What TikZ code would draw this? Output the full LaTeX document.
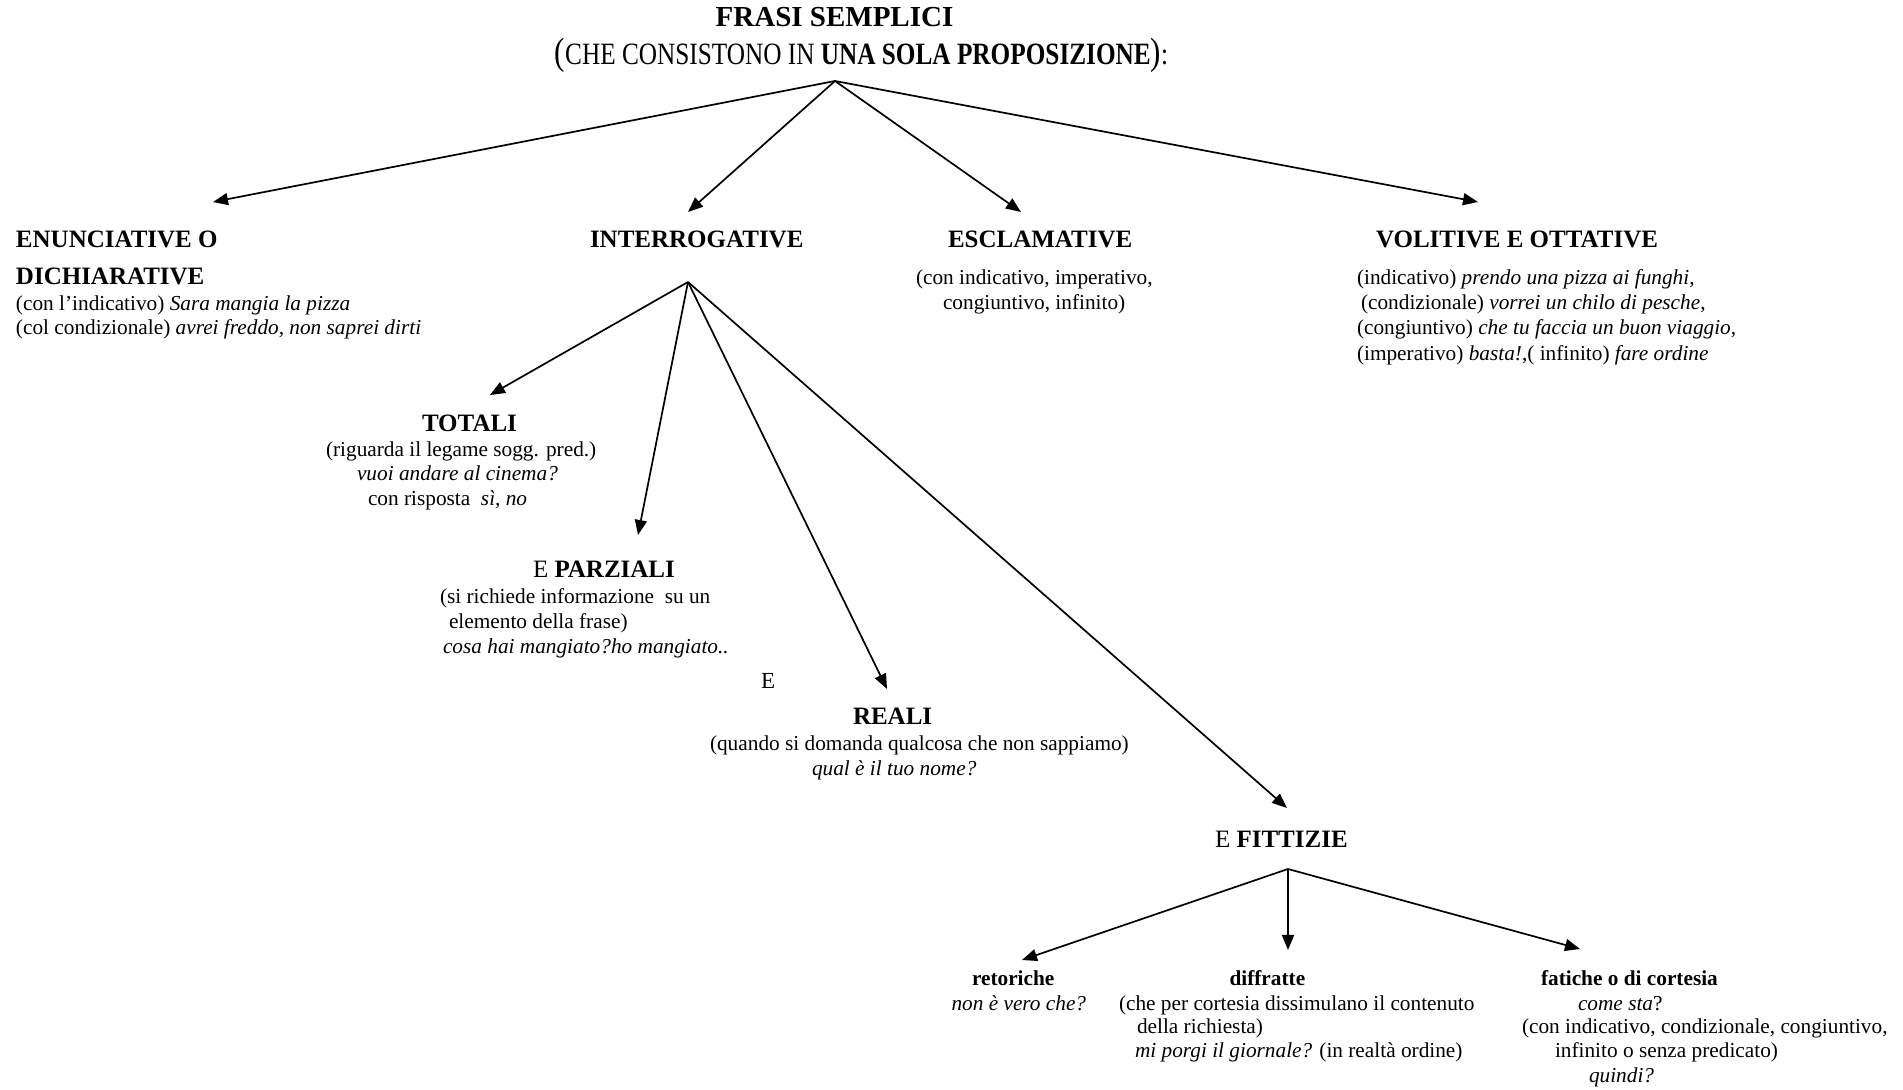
\documentclass[tikz,border=0pt]{standalone}
\usepackage{fontspec}
\usepackage{graphicx}
\setmainfont{Liberation Serif}
\usetikzlibrary{arrows.meta}

\tikzset{
  x=0.5pt, y=-0.5pt,
  txt/.style={inner sep=0pt, outer sep=0pt, anchor=base west,
              font=\fontsize{10.65}{12.5}\selectfont},
  headtxt/.style={txt, font=\fontsize{12.5}{14}\selectfont},
  boldhead/.style={txt, font=\fontsize{12.5}{14}\selectfont\bfseries},
  subhead/.style={txt, font=\fontsize{10.65}{12.5}\selectfont\bfseries},
  arr/.style={-{Triangle[length=7.5pt,width=6pt]}, line width=0.85pt},
}

\begin{document}
\begin{tikzpicture}
\useasboundingbox (0,0) rectangle (1903,1090);

% title
\node[txt, anchor=base, font=\fontsize{14.5}{16}\selectfont\bfseries] (title1) at (834.5,27) {FRASI SEMPLICI};
\node[txt, anchor=base, font=\fontsize{15.5}{18}\selectfont] (title2) at (861.5,65)
  {\scalebox{0.815}[1]{{\fontsize{19}{20}\selectfont(}CHE CONSISTONO IN \textbf{UNA SOLA PROPOSIZIONE}{\fontsize{19}{20}\selectfont)}:}};

% first level
\node[boldhead] (enun1) at (16,248) {ENUNCIATIVE O};
\node[boldhead] (enun2) at (16,285) {DICHIARATIVE};
\node[txt] (enunA) at (16,311) {(con l’indicativo) \textit{Sara mangia la pizza}};
\node[txt] (enunB) at (16,335) {(col condizionale) \textit{avrei freddo, non saprei dirti}};

\node[boldhead] (inter) at (590,248) {INTERROGATIVE};

\node[boldhead] (escl) at (948,248) {ESCLAMATIVE};
\node[txt] (esclA) at (916,285) {(con indicativo, imperativo,};
\node[txt] (esclB) at (943,310) {congiuntivo, infinito)};

\node[boldhead] (vol) at (1376,248) {VOLITIVE E OTTATIVE};
\node[txt] (volA) at (1357,285) {(indicativo) \textit{prendo una pizza ai funghi},};
\node[txt] (volB) at (1361,310) {(condizionale) \textit{vorrei un chilo di pesche},};
\node[txt] (volC) at (1357,335) {(congiuntivo) \textit{che tu faccia un buon viaggio},};
\node[txt] (volD) at (1357,360.5) {(imperativo) \textit{basta!},( infinito) \textit{fare ordine}};

% interrogative branches
\node[boldhead] (tot) at (422,432) {TOTALI};
\node[txt] (totA) at (326,456.5) {(riguarda il legame sogg. pred.)};
\node[txt] (totB) at (357,481) {\textit{vuoi andare al cinema?}};
\node[txt] (totC) at (368,506) {con risposta\ \ \textit{sì, no}};

\node[headtxt] (parz) at (533,578) {E \textbf{PARZIALI}};
\node[txt] (parzA) at (440,604) {(si richiede informazione\ \ su un};
\node[txt] (parzB) at (449,629) {elemento della frase)};
\node[txt] (parzC) at (443,654) {\textit{cosa hai mangiato?ho mangiato..}};

\node[txt, font=\fontsize{11.5}{13}\selectfont] (conj) at (761,689) {E};

\node[boldhead] (real) at (853,725) {REALI};
\node[txt] (realA) at (710,751) {(quando si domanda qualcosa che non sappiamo)};
\node[txt] (realB) at (812,776) {\textit{qual è il tuo nome?}};

\node[headtxt] (fitt) at (1215,848) {E \textbf{FITTIZIE}};

% fictitious questions
\node[subhead] (ret) at (972,985.5) {retoriche};
\node[txt] (retA) at (951.5,1010) {\textit{non è vero che?}};

\node[subhead] (diff) at (1229.5,985.5) {diffratte};
\node[txt] (diffA) at (1119,1010) {(che per cortesia dissimulano il contenuto};
\node[txt] (diffB) at (1137,1034) {della richiesta)};
\node[txt] (diffC) at (1135,1058) {\textit{mi porgi il giornale?} (in realtà ordine)};

\node[subhead] (fat) at (1541,985.5) {fatiche o di cortesia};
\node[txt] (fatA) at (1578,1010) {\textit{come sta}?};
\node[txt] (fatB) at (1522,1034) {(con indicativo, condizionale, congiuntivo,};
\node[txt] (fatC) at (1555,1058) {infinito o senza predicato)};
\node[txt] (fatD) at (1589,1082.6) {\textit{quindi?}};

% branching points and arrow tips
\coordinate (root)   at (835,81);
\coordinate (tEnun)  at (213,202);
\coordinate (tInter) at (688,212);
\coordinate (tEscl)  at (1021,212);
\coordinate (tVol)   at (1478,202);

\coordinate (forkI)  at (688,282);
\coordinate (tTot)   at (490,395);
\coordinate (tParz)  at (638,535);
\coordinate (tReal)  at (887,689);
\coordinate (tFitt)  at (1287,808);

\coordinate (forkF)  at (1288,869);
\coordinate (tRet)   at (1022,960);
\coordinate (tDiff)  at (1288,950);
\coordinate (tFat)   at (1580,949);

\draw[arr] (root) -- (tEnun);
\draw[arr] (root) -- (tInter);
\draw[arr] (root) -- (tEscl);
\draw[arr] (root) -- (tVol);

\draw[arr] (forkI) -- (tTot);
\draw[arr] (forkI) -- (tParz);
\draw[arr] (forkI) -- (tReal);
\draw[arr] (forkI) -- (tFitt);

\draw[arr] (forkF) -- (tRet);
\draw[arr] (forkF) -- (tDiff);
\draw[arr] (forkF) -- (tFat);
\end{tikzpicture}
\end{document}
